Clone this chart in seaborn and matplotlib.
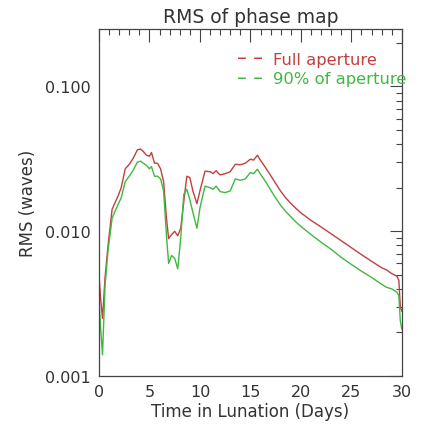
import numpy as np
import pandas as pd
import matplotlib
matplotlib.use("Agg")
import matplotlib.pyplot as plt
import matplotlib.ticker as mticker
import seaborn as sns

days = [0.0, 0.15, 0.35, 0.6, 0.9, 1.3, 1.9, 2.2, 2.6, 3.0, 3.4, 3.8, 4.1, 4.4, 4.7,
        5.0, 5.2, 5.5, 5.8, 6.1, 6.4, 6.7, 6.9, 7.2, 7.5, 7.8, 8.1, 8.4, 8.7, 9.0,
        9.3, 9.7, 10.0, 10.5, 11.0, 11.3, 11.6, 12.0, 12.5, 13.0, 13.5, 14.0, 14.5,
        15.0, 15.3, 15.7, 16.0, 16.5, 17.0, 17.5, 18.0, 18.5, 19.0, 19.5, 20.0,
        21.0, 22.0, 23.0, 24.0, 25.0, 26.0, 27.0, 28.0, 28.5, 29.0, 29.5, 29.7,
        29.85, 30.0]

full_aperture = [0.0050, 0.0035, 0.0025, 0.0048, 0.0080, 0.0142, 0.0176, 0.0200,
                 0.0270, 0.0290, 0.0320, 0.0365, 0.0370, 0.0355, 0.0335, 0.0330,
                 0.0350, 0.0295, 0.0295, 0.0270, 0.0220, 0.0120, 0.0089, 0.0095,
                 0.0100, 0.0093, 0.0105, 0.0160, 0.0240, 0.0235, 0.0190, 0.0155,
                 0.0190, 0.0260, 0.0258, 0.0250, 0.0262, 0.0245, 0.0250, 0.0258,
                 0.0290, 0.0288, 0.0295, 0.0315, 0.0310, 0.0335, 0.0309, 0.0275,
                 0.0243, 0.0214, 0.0189, 0.0170, 0.0156, 0.0144, 0.0134, 0.0119,
                 0.0107, 0.0096, 0.0086, 0.0077, 0.0069, 0.0062, 0.0056, 0.0054,
                 0.0051, 0.0049, 0.0046, 0.0030, 0.0028]

aperture_90 = [0.0035, 0.0022, 0.0014, 0.0042, 0.0074, 0.0123, 0.0154, 0.0170,
               0.0220, 0.0240, 0.0265, 0.0300, 0.0305, 0.0295, 0.0285, 0.0270,
               0.0280, 0.0240, 0.0240, 0.0230, 0.0190, 0.0090, 0.0060, 0.0068,
               0.0065, 0.0055, 0.0090, 0.0180, 0.0195, 0.0165, 0.0135, 0.0105,
               0.0145, 0.0205, 0.0200, 0.0195, 0.0205, 0.0188, 0.0185, 0.0190,
               0.0230, 0.0225, 0.0230, 0.0255, 0.0250, 0.0268, 0.0248, 0.0220,
               0.0193, 0.0170, 0.0151, 0.0137, 0.0126, 0.0116, 0.0108, 0.0095,
               0.0084, 0.0075, 0.0066, 0.0059, 0.0053, 0.0048, 0.0043, 0.0041,
               0.0040, 0.0038, 0.0036, 0.0024, 0.0021]

series_names = ["Full aperture", "90% of aperture"]
y_ticks = [0.001, 0.010, 0.100]
y_ticklabels = ["0.001", "0.010", "0.100"]
x_ticks = [0, 5, 10, 15, 20, 25, 30]

df = pd.DataFrame({
    "day": days * 2,
    "rms": full_aperture + aperture_90,
    "series": [series_names[0]] * len(days) + [series_names[1]] * len(days),
})

sns.set_style("white")
plt.rcParams["font.family"] = ["DejaVu Sans"]

red = "#c04040"
green = "#40b840"
txt = "#333333"

fig = plt.figure(figsize=(4.23, 4.27), dpi=100)
ax = fig.add_axes([0.234, 0.117, 0.716, 0.813])

sns.lineplot(data=df, x="day", y="rms", hue="series",
             palette={series_names[0]: red, series_names[1]: green},
             linewidth=1.0, ax=ax, legend=False)

ax.set_yscale("log")
ax.set_xlim(0, 30)
ax.set_ylim(0.001, 0.25)
ax.set_xticks(x_ticks)
ax.set_xticklabels([str(t) for t in x_ticks])
ax.xaxis.set_minor_locator(mticker.MultipleLocator(1))
ax.set_yticks(y_ticks)
ax.set_yticklabels(y_ticklabels)
ax.yaxis.set_minor_locator(mticker.LogLocator(base=10, subs=np.arange(2, 10)))
ax.yaxis.set_minor_formatter(mticker.NullFormatter())

ax.tick_params(which="both", direction="in", top=True, right=True,
               color="#444444", labelcolor=txt, labelsize=11.5, width=0.8, pad=6)
ax.tick_params(which="major", length=9)
ax.tick_params(which="minor", length=4.5)
for s in ax.spines.values():
    s.set_color("#444444")
    s.set_linewidth(0.9)

ax.set_xlabel("Time in Lunation (Days)", fontsize=12, color=txt, labelpad=2)
ax.set_ylabel("RMS (waves)", fontsize=12, color=txt, labelpad=6)
ax.set_title("RMS of phase map", fontsize=13.5, color=txt, pad=5)

for i, (name, col) in enumerate([(series_names[0], red), (series_names[1], green)]):
    yy = 0.913 - i * 0.057
    ax.text(0.457, yy + 0.004, "\u2013 \u2013", color=col, fontsize=14,
            transform=ax.transAxes, va="center", ha="left")
    ax.text(0.574, yy, name, color=col, fontsize=11.8,
            transform=ax.transAxes, va="center", ha="left", clip_on=False)

fig.savefig("out.png", dpi=100)
